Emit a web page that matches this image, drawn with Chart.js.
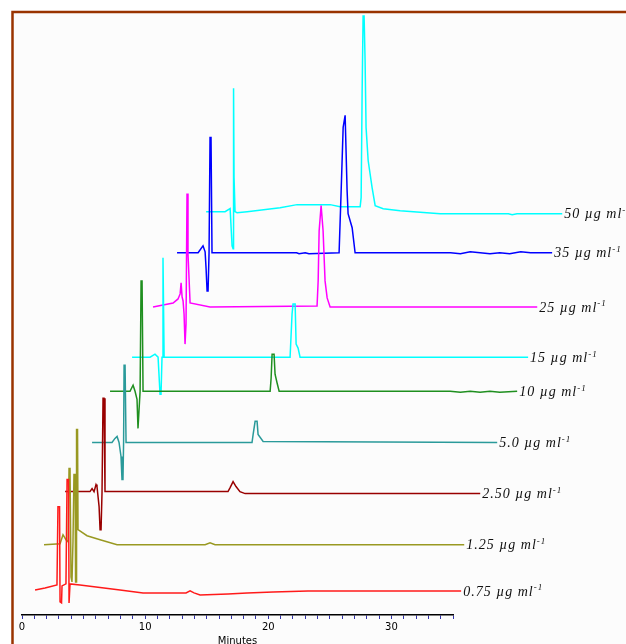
<!DOCTYPE html>
<html>
<head>
<meta charset="utf-8">
<script src="https://cdn.jsdelivr.net/npm/chart.js@4.4.0/dist/chart.umd.min.js"></script>
<style>
	html, body { margin: 0; padding: 0; background: #fff; overflow: hidden; }
	#wrap { position: relative; width: 626px; height: 651px; }
</style>
</head>
<body>
<div id="wrap"><canvas id="myChart"></canvas></div>
<script>
// concentrations, bottom trace first
var concLabels = ['0.75', '1.25', '2.50', '5.0', '10', '15', '25', '35', '50'];
var lineColors = ['#ff1a1a', '#999922', '#990000', '#2a9a9a', '#1f8f1f', '#00ffff', '#ff00ff', '#0000ff', '#00ffff'];

// [minutes, response]
var trace075 = [[1.06,25],[1.87,27],[2.84,30],[2.92,108],[3.05,108],[3.09,13],[3.21,12],[3.25,29],[3.57,31],[3.66,135],[3.78,135],[3.82,12],[3.90,31],[4.71,30],[6.01,28],[7.96,25],[9.83,22],[13.32,22],[13.65,24],[13.97,22],[14.46,20],[16.73,21],[18.28,22],[20.39,23],[23.23,24],[35.66,24]];
var trace125 = [[1.79,70],[3.09,71],[3.33,80],[3.57,75],[3.74,73],[3.82,146],[3.90,146],[3.98,38],[4.06,33],[4.14,73],[4.22,140],[4.31,140],[4.35,33],[4.39,33],[4.43,185],[4.51,185],[4.55,85],[5.28,79],[6.34,75],[7.72,70],[14.87,70],[15.27,72],[15.68,70],[35.91,70]];
var trace250 = [[3.50,123],[5.52,123],[5.69,126],[5.85,123],[6.01,130],[6.09,128],[6.26,108],[6.34,85],[6.42,85],[6.50,123],[6.58,216],[6.66,216],[6.74,123],[16.73,123],[16.90,127],[17.14,133],[17.38,128],[17.70,123],[18.12,121],[37.21,121]];
var trace50 = [[5.69,172],[7.31,172],[7.55,176],[7.72,178],[7.88,172],[8.04,158],[8.12,135],[8.20,135],[8.25,172],[8.29,249],[8.37,249],[8.45,172],[18.68,172],[18.77,180],[18.93,193],[19.09,193],[19.17,180],[19.58,173],[38.59,172]];
var trace10 = [[7.15,223],[8.77,223],[9.02,229],[9.18,223],[9.34,215],[9.42,186],[9.50,186],[9.59,223],[9.67,333],[9.75,333],[9.83,223],[20.15,223],[20.23,236],[20.31,260],[20.47,260],[20.55,240],[20.72,231],[20.88,223],[34.77,223],[35.6,222],[36.4,223],[37.2,222],[38.0,223],[38.8,222],[40.21,223]];
var trace15 = [[8.94,257],[10.40,257],[10.80,260],[11.05,257],[11.21,220],[11.29,220],[11.37,257],[11.45,356],[11.54,257],[21.77,257],[21.93,300],[22.01,310],[22.18,310],[22.26,270],[22.42,266],[22.58,257],[41.10,257]];
var trace25 = [[10.64,307],[12.27,311],[12.67,315],[12.84,320],[12.92,331],[13.00,317],[13.08,313],[13.16,300],[13.24,270],[13.32,290],[13.40,420],[13.48,360],[13.65,311],[15.27,307],[23.96,308],[24.05,333],[24.13,383],[24.29,408],[24.45,383],[24.61,333],[24.78,316],[25.02,307],[41.84,307]];
var trace35 = [[12.59,361],[14.30,361],[14.70,368],[14.87,362],[14.95,345],[15.03,323],[15.11,323],[15.19,361],[15.27,476],[15.35,476],[15.43,361],[22.3,361],[22.5,360],[23.0,361],[23.3,360],[25.75,361],[25.91,420],[26.08,486],[26.24,498],[26.40,423],[26.48,400],[26.81,386],[27.05,361],[34.8,361],[35.6,360],[36.4,362],[37.2,361],[38.0,360],[38.8,361],[39.6,360],[40.5,362],[41.3,361],[43.05,361]];
var trace500 = [[14.95,402],[16.49,402],[16.90,405],[17.06,368],[17.14,365],[17.18,525],[17.22,436],[17.30,402],[17.46,401],[18.28,402],[20.96,406],[22.34,409],[25.02,409],[25.83,407],[27.46,407],[27.54,416],[27.62,520],[27.70,597],[27.78,597],[27.86,553],[27.94,486],[28.11,453],[28.43,426],[28.68,408],[29.33,405],[30.71,403],[33.96,400],[39.5,400],[39.8,399],[40.2,400],[43.87,400]];

var traces = [trace075, trace125, trace250, trace50, trace10, trace15, trace25, trace35, trace500];
var xTickLabels = [0, 10, 20, 30];

var datasets = traces.map(function(tr, i) {
	return {
		label: concLabels[i],
		data: tr.map(function(p) { return { x: p[0], y: p[1] }; }),
		borderColor: lineColors[i],
		borderWidth: 1.5,
		pointRadius: 0,
		tension: 0,
		clip: false
	};
});

// brown frame behind everything
var framePlugin = {
	id: 'frame',
	beforeDraw: function(chart) {
		var c = chart.ctx;
		c.save();
		c.fillStyle = '#ffffff';
		c.fillRect(0, 0, chart.width, chart.height);
		c.fillStyle = '#fcfcfc';
		c.fillRect(13, 13, chart.width, chart.height);
		c.strokeStyle = '#993300';
		c.lineWidth = 2.5;
		c.beginPath();
		c.moveTo(12.5, chart.height + 10);
		c.lineTo(12.5, 12);
		c.lineTo(chart.width + 10, 12);
		c.stroke();
		c.restore();
	}
};

// concentration text at the end of each trace
var endLabelPlugin = {
	id: 'endLabels',
	afterDatasetsDraw: function(chart) {
		var c = chart.ctx;
		c.save();
		c.fillStyle = '#111';
		c.textBaseline = 'middle';
		chart.data.datasets.forEach(function(ds, i) {
			var pts = chart.getDatasetMeta(i).data;
			var last = pts[pts.length - 1];
			var txt = concLabels[i] + ' \u00b5g ml';
			c.font = 'italic 14px "Liberation Serif"';
			c.letterSpacing = '1px';
			c.fillText(txt, last.x + 2, last.y + 1);
			var w = c.measureText(txt).width;
			c.font = 'italic 9px "Liberation Serif"';
			c.letterSpacing = '1px';
			c.fillText('-1', last.x + 2 + w, last.y - 3);
		});
		c.restore();
	}
};

var ctx = document.getElementById('myChart').getContext('2d');
var myChart = new Chart(ctx, {
	type: 'line',
	data: { datasets: datasets },
	plugins: [framePlugin, endLabelPlugin],
	options: {
		responsive: true,
		maintainAspectRatio: false,
		animation: false,
		layout: { padding: { left: 22, right: 173, top: 14, bottom: 0 } },
		plugins: { legend: { display: false }, tooltip: { enabled: false } },
		scales: {
			x: {
				type: 'linear',
				afterDataLimits: function(scale) { scale.min = 0; scale.max = 35; },
				grid: { drawOnChartArea: false, tickLength: 4, color: '#3333aa', lineWidth: 1 },
				border: { display: true, color: '#000', width: 1.5 },
				ticks: {
					stepSize: 1,
					autoSkip: false,
					maxTicksLimit: 50,
					maxRotation: 0,
					padding: 2,
					color: '#000',
					font: { family: 'DejaVu Sans', size: 10 },
					callback: function(v) { return xTickLabels.indexOf(v) >= 0 ? String(v) : ''; }
				},
				title: {
					display: true,
					text: 'Minutes',
					color: '#000',
					padding: { top: 0, bottom: 4 },
					font: { family: 'DejaVu Sans', size: 10 }
				}
			},
			y: {
				type: 'linear',
				display: false,
				min: 0,
				max: 599
			}
		}
	}
});
</script>
</body>
</html>
